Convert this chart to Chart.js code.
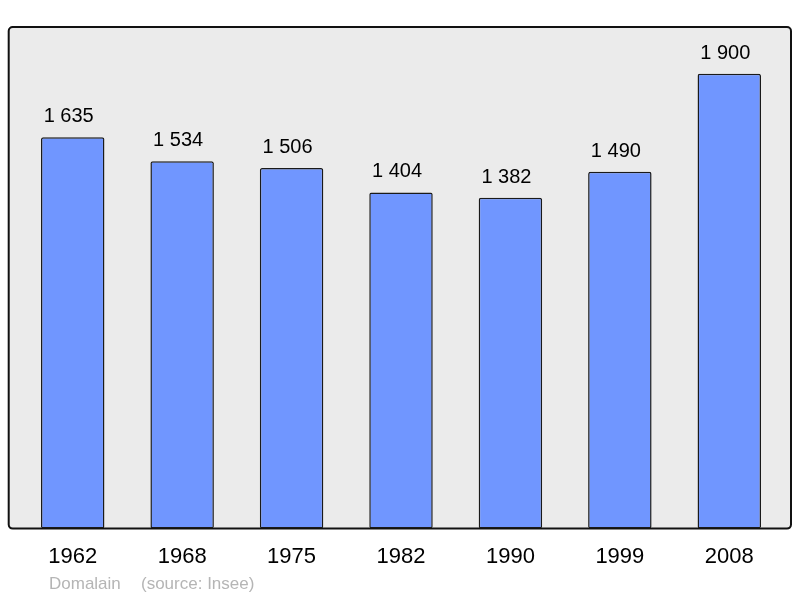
<!DOCTYPE html>
<html>
<head>
<meta charset="utf-8">
<script src="https://cdn.jsdelivr.net/npm/chart.js@4/dist/chart.umd.min.js"></script>
<style>
  html, body { margin: 0; padding: 0; background: #fff; }
  #wrap { width: 800px; height: 598px; }
</style>
</head>
<body>
<div id="wrap"><canvas id="myChart" width="800" height="598"></canvas></div>
<script>
const years = ["1962", "1968", "1975", "1982", "1990", "1999", "2008"];
const population = [1635, 1534, 1506, 1404, 1382, 1490, 1900];
const valueLabels = ["1 635", "1 534", "1 506", "1 404", "1 382", "1 490", "1 900"];
const commune = "Domalain";
const source = "(source: Insee)";

// grey frame behind the plot
const frame = {
    id: "frame",
    beforeDraw(chart) {
        const { ctx, chartArea: a } = chart;
        const x = a.left - 9.3, y = a.top, w = a.right + 7 - x, h = a.bottom - a.top;
        ctx.save();
        ctx.beginPath();
        ctx.roundRect(x, y, w, h, 4);
        ctx.fillStyle = "#ebebeb";
        ctx.fill();
        ctx.lineWidth = 2;
        ctx.strokeStyle = "#111";
        ctx.stroke();
        ctx.restore();
    },
    afterDraw(chart) {
        const { ctx } = chart;
        const meta = chart.getDatasetMeta(0);
        ctx.save();
        ctx.font = "20px 'Liberation Sans', Arial, sans-serif";
        ctx.fillStyle = "#000";
        ctx.textAlign = "center";
        ctx.textBaseline = "alphabetic";
        meta.data.forEach((bar, i) => {
            ctx.fillText(valueLabels[i], bar.x - 4, bar.y - 15);
        });
        ctx.font = "17px 'Liberation Sans', Arial, sans-serif";
        ctx.fillStyle = "#b5b5b5";
        ctx.textAlign = "left";
        ctx.fillText(commune, 49, 589);
        ctx.fillText(source, 141, 589);
        ctx.restore();
    }
};

new Chart(document.getElementById("myChart").getContext("2d"), {
    type: "bar",
    data: {
        labels: years,
        datasets: [{
            data: population,
            backgroundColor: "#7096ff",
            borderColor: "#1a1a1a",
            borderWidth: 1.5,
            borderRadius: 2,
            borderSkipped: false,
            barPercentage: 0.58,
            categoryPercentage: 1
        }]
    },
    options: {
        responsive: false,
        animation: false,
        layout: { padding: { left: 18, right: 16, top: 27, bottom: 13 } },
        plugins: { legend: { display: false }, tooltip: { enabled: false } },
        scales: {
            x: {
                grid: { display: false, drawTicks: false },
                border: { display: false },
                ticks: {
                    padding: 15,
                    color: "#000",
                    font: { family: "'Liberation Sans', Arial, sans-serif", size: 22 }
                }
            },
            y: { display: false, min: 0, max: 2095 }
        }
    },
    plugins: [frame]
});
</script>
</body>
</html>
